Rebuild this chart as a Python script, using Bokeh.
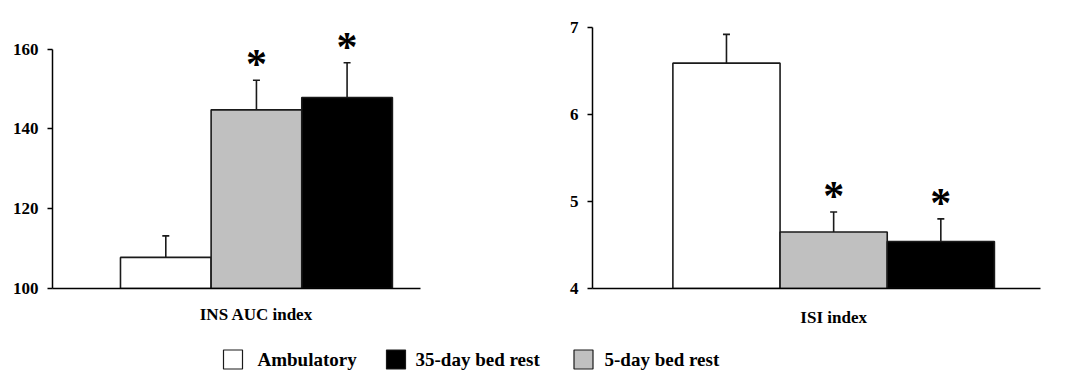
from bokeh.plotting import figure
from bokeh.layouts import column, row
from bokeh.models import ColumnDataSource, Range1d, FixedTicker, Whisker, TeeHead
from bokeh.core.properties import value
from bokeh.embed import file_html
from bokeh.resources import INLINE

# Group order along each panel
groups = ["Ambulatory", "5-day bed rest", "35-day bed rest"]
group_colors = ["#FFFFFF", "#C0C0C0", "#000000"]
significant = [False, True, True]

# Insulin AUC index (mean, SEM)
ins_auc_mean = [107.8, 144.8, 147.9]
ins_auc_sem = [5.4, 7.4, 8.7]
ins_ticks = [100, 120, 140, 160]

# Insulin sensitivity index (mean, SEM)
isi_mean = [6.59, 4.65, 4.54]
isi_sem = [0.33, 0.23, 0.26]
isi_ticks = [4, 5, 6, 7]

# Legend order
legend_labels = ["Ambulatory", "35-day bed rest", "5-day bed rest"]
legend_colors = ["#FFFFFF", "#000000", "#C0C0C0"]

FONT = "Liberation Serif"


def panel(title, means, sems, ticks, x_end, y_end, width, border_left,
          border_right, border_top, label_standoff):
    base = ticks[0]
    xs = list(range(len(groups)))
    tops = [m + s for m, s in zip(means, sems)]
    src = ColumnDataSource(dict(x=xs, top=means, upper=tops, color=group_colors))

    p = figure(width=width, height=330, output_backend="svg", toolbar_location=None,
               x_range=Range1d(-1.25, x_end), y_range=Range1d(base, y_end),
               min_border_left=border_left, min_border_right=border_right,
               min_border_top=border_top, min_border_bottom=42)
    p.outline_line_color = None
    p.xgrid.visible = False
    p.ygrid.visible = False

    p.vbar(x="x", top="top", bottom=base, width=1.0, source=src,
           fill_color="color", line_color="#1a1a1a", line_width=1.6)

    w = Whisker(base="x", lower="top", upper="upper", source=src, dimension="height",
                line_color="#1a1a1a", line_width=1.6, lower_head=None,
                upper_head=TeeHead(size=7, line_color="#1a1a1a", line_width=1.6),
                level="overlay")
    p.add_layout(w)

    # significance markers above the error bars
    star_x = [x for x, s in zip(xs, significant) if s]
    star_y = [t for t, s in zip(tops, significant) if s]
    p.text(x=star_x, y=star_y, text=["*"] * len(star_x), text_align="center",
           text_baseline="middle", y_offset=-16, text_font=value(FONT),
           text_font_style="bold", text_font_size="42px", text_color="black")

    ya = p.yaxis[0]
    ya.ticker = FixedTicker(ticks=ticks)
    ya.bounds = (ticks[0], ticks[-1])
    ya.major_tick_out = 5
    ya.major_tick_in = 0
    ya.minor_tick_line_color = None
    ya.axis_line_width = 1.5
    ya.axis_line_color = "black"
    ya.major_tick_line_width = 1.5
    ya.major_label_standoff = 9
    ya.major_label_text_font = FONT
    ya.major_label_text_font_style = "bold"
    ya.major_label_text_font_size = "17px"
    ya.major_label_text_color = "black"

    xa = p.xaxis[0]
    xa.ticker = FixedTicker(ticks=[1])
    xa.major_label_overrides = {1: title}
    xa.major_tick_line_color = None
    xa.minor_tick_line_color = None
    xa.axis_line_width = 1.5
    xa.axis_line_color = "black"
    xa.major_label_standoff = label_standoff
    xa.major_label_text_font = FONT
    xa.major_label_text_font_style = "bold"
    xa.major_label_text_font_size = "17px"
    xa.major_label_text_color = "black"
    return p


p1 = panel("INS AUC index", ins_auc_mean, ins_auc_sem, ins_ticks, 2.81, 167.2,
           540, 52, 120, 20, 10)
p2 = panel("ISI index", isi_mean, isi_sem, isi_ticks, 2.93, 7.08,
           527, 52, 27, 10, 13)

# Legend strip along the bottom
leg = figure(width=1067, height=44, output_backend="svg", toolbar_location=None,
             x_range=Range1d(0, 1067), y_range=Range1d(0, 44), min_border=0)
leg.axis.visible = False
leg.grid.visible = False
leg.outline_line_color = None
swatch_x = [232.5, 395.5, 583]
label_x = [257, 415, 604]
leg.rect(x=swatch_x, y=[15] * 3, width=19, height=19, fill_color=legend_colors,
         line_color="#1a1a1a", line_width=1.2)
leg.text(x=label_x, y=[15] * 3, text=legend_labels, text_baseline="middle",
         text_align="left", text_font=value(FONT), text_font_style="bold",
         text_font_size="19px", text_color="black")

layout = column(row(p1, p2, spacing=0), leg, spacing=0)
open("out.html", "w").write(file_html(layout, INLINE))
